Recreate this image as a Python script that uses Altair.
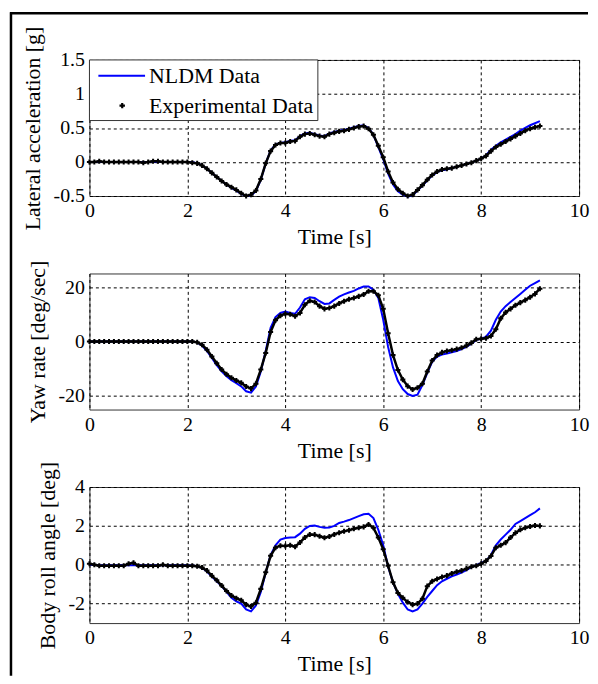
import altair as alt
import pandas as pd

# ---------------- data ----------------
TIME = [round(i * 0.1, 1) for i in range(93)]  # 0.0 .. 9.2 s

ACC_EXP = [0.00, 0.00, 0.01, 0.00, 0.00, 0.00, 0.00, 0.00, 0.00, 0.00,
           0.00, -0.01, 0.00, 0.01, 0.01, 0.00, 0.00, 0.00, 0.00, 0.00,
           0.00, -0.01, -0.02, -0.05, -0.10, -0.16, -0.22, -0.28, -0.33, -0.37,
           -0.41, -0.46, -0.50, -0.48, -0.42, -0.25, -0.02, 0.16, 0.25, 0.28,
           0.28, 0.30, 0.31, 0.37, 0.41, 0.42, 0.40, 0.38, 0.37, 0.41,
           0.43, 0.45, 0.46, 0.48, 0.50, 0.52, 0.53, 0.49, 0.40, 0.24,
           0.07, -0.14, -0.30, -0.40, -0.46, -0.50, -0.48, -0.41, -0.34, -0.26,
           -0.19, -0.14, -0.11, -0.10, -0.09, -0.07, -0.05, -0.03, -0.01, 0.02,
           0.05, 0.09, 0.16, 0.22, 0.26, 0.30, 0.34, 0.38, 0.42, 0.46,
           0.49, 0.51, 0.53]
ACC_NLDM = [0.00, 0.00, 0.00, 0.00, 0.00, 0.00, 0.00, 0.00, 0.00, 0.00,
            0.00, 0.00, 0.00, 0.00, 0.00, 0.00, 0.00, 0.00, 0.00, 0.00,
            0.00, 0.00, -0.02, -0.05, -0.10, -0.16, -0.22, -0.28, -0.33, -0.38,
            -0.42, -0.47, -0.50, -0.49, -0.43, -0.26, -0.02, 0.17, 0.26, 0.28,
            0.29, 0.31, 0.32, 0.38, 0.42, 0.43, 0.41, 0.39, 0.38, 0.42,
            0.44, 0.46, 0.47, 0.49, 0.51, 0.53, 0.54, 0.50, 0.40, 0.22,
            0.04, -0.17, -0.33, -0.43, -0.48, -0.51, -0.49, -0.42, -0.35, -0.27,
            -0.20, -0.15, -0.12, -0.11, -0.09, -0.07, -0.05, -0.03, -0.01, 0.02,
            0.05, 0.10, 0.18, 0.24, 0.29, 0.33, 0.37, 0.41, 0.46, 0.50,
            0.54, 0.57, 0.60]

YAW_EXP = [0, 0, 0, 0, 0, 0, 0, 0, 0, 0,
           0, 0, 0, 0, 0, 0, 0, 0, 0, 0,
           0, 0, -0.3, -1.2, -3.0, -5.5, -8.0, -10.3, -12.0, -13.3,
           -14.3, -15.2, -16.5, -17.3, -15.5, -10.3, -4.2, 3.5, 7.8, 9.5,
           10.2, 10.0, 9.3, 10.5, 13.5, 15.0, 14.5, 13.0, 12.0, 12.3,
           13.0, 14.0, 14.8, 15.5, 16.0, 16.6, 17.3, 18.5, 18.5, 17.0,
           12.0, 3.0, -5.0, -10.5, -14.0, -16.4, -17.6, -17.0, -15.5, -11.0,
           -7.0, -5.0, -4.0, -3.5, -3.2, -2.8, -2.3, -1.5, -0.5, 0.8,
           1.0, 1.2, 2.0, 4.5, 8.5, 10.7, 12.0, 13.3, 14.3, 15.2,
           16.3, 17.5, 19.4]
YAW_NLDM = [0, 0, 0, 0, 0, 0, 0, 0, 0, 0,
            0, 0, 0, 0, 0, 0, 0, 0, 0, 0,
            0, 0, -0.3, -1.5, -3.5, -6.0, -8.7, -11.0, -12.8, -14.2,
            -15.3, -16.5, -18.3, -18.8, -16.5, -11.0, -3.5, 5.0, 9.0, 10.5,
            11.0, 10.5, 10.2, 12.5, 15.5, 16.3, 16.0, 14.8, 13.8, 14.0,
            15.3, 16.5, 17.3, 18.0, 18.6, 19.5, 20.2, 20.2, 19.0, 16.0,
            8.0, -2.0, -9.5, -14.5, -17.5, -19.3, -20.0, -19.5, -16.0, -11.5,
            -7.5, -5.5, -4.8, -4.4, -4.0, -3.5, -2.8, -2.0, -0.8, 0.6,
            1.0, 1.8, 4.0, 8.0, 11.0, 13.0, 14.5, 16.0, 17.5, 19.0,
            20.5, 21.5, 22.5]

ROLL_EXP = [0.05, 0.0, -0.05, -0.05, -0.05, -0.05, -0.05, -0.05, 0.05, 0.1,
            -0.05, -0.05, -0.05, -0.05, -0.05, 0.0, -0.05, -0.05, -0.05, -0.05,
            -0.05, -0.05, -0.08, -0.14, -0.30, -0.56, -0.80, -1.07, -1.35, -1.58,
            -1.72, -1.83, -2.05, -2.15, -1.95, -1.24, -0.39, 0.46, 0.88, 0.98,
            0.97, 1.00, 0.93, 1.15, 1.40, 1.56, 1.55, 1.47, 1.39, 1.45,
            1.56, 1.65, 1.72, 1.78, 1.85, 1.90, 1.95, 2.07, 1.90, 1.40,
            0.80, -0.05, -0.90, -1.45, -1.70, -1.92, -2.05, -2.00, -1.75, -1.10,
            -0.85, -0.73, -0.63, -0.56, -0.45, -0.36, -0.30, -0.20, -0.10, -0.05,
            0.05, 0.20, 0.45, 0.88, 1.00, 1.14, 1.40, 1.64, 1.80, 1.90,
            1.97, 2.02, 2.00]
ROLL_NLDM = [0.0, 0.0, -0.02, -0.02, -0.02, -0.02, -0.02, -0.02, -0.02, -0.02,
             -0.02, -0.02, -0.02, -0.02, -0.02, -0.02, -0.02, -0.02, -0.02, -0.02,
             -0.02, -0.04, -0.08, -0.15, -0.35, -0.60, -0.85, -1.10, -1.40, -1.70,
             -1.88, -2.00, -2.30, -2.40, -2.10, -1.40, -0.40, 0.50, 1.00, 1.30,
             1.38, 1.40, 1.42, 1.60, 1.85, 2.00, 2.02, 1.95, 1.90, 1.92,
             2.00, 2.15, 2.22, 2.30, 2.40, 2.50, 2.60, 2.62, 2.40, 1.80,
             1.00, -0.10, -0.90, -1.50, -1.95, -2.30, -2.40, -2.30, -2.00, -1.65,
             -1.35, -1.05, -0.85, -0.72, -0.60, -0.50, -0.40, -0.28, -0.12, -0.02,
             0.10, 0.20, 0.50, 1.00, 1.30, 1.55, 1.80, 2.10, 2.25, 2.40,
             2.55, 2.70, 2.90]

X_TICKS = [0, 2, 4, 6, 8, 10]
ACC_TICKS = [-0.5, 0, 0.5, 1, 1.5]
YAW_TICKS = [-20, 0, 20]
ROLL_TICKS = [-2, 0, 2, 4]
LEGEND_LABELS = ["NLDM Data", "Experimental Data"]

FONT = "Liberation Serif"
W, H = 493, 137


def one():
    return alt.Chart(pd.DataFrame({"k": [0]}))


def panel(y_exp, y_nldm, title, domain, ticks, legend=False, frame=False):
    df = pd.DataFrame({"t": TIME, "exp": y_exp, "nldm": y_nldm})
    x = alt.X("t:Q", scale=alt.Scale(domain=[0, 10], nice=False),
              axis=alt.Axis(values=X_TICKS, tickCount=20, title="Time [s]",
                            labelOverlap=False, labelFlush=False,
                            labelExpr="toString(datum.value)"))
    y_scale = alt.Scale(domain=domain, nice=False, zero=False)
    base = alt.Chart(df)
    blue = base.mark_line(color="#0000ff", strokeWidth=2).encode(
        x=x,
        y=alt.Y("nldm:Q", scale=y_scale,
                axis=alt.Axis(values=ticks, tickCount=20, title=title,
                              labelOverlap=False,
                              labelExpr="toString(datum.value)")))
    black_line = base.mark_line(color="black", strokeWidth=2.5).encode(
        x="t:Q", y="exp:Q")
    black_pts = base.mark_point(shape="cross", filled=True, color="black",
                                opacity=1, size=26).encode(x="t:Q", y="exp:Q")
    layers = [blue, black_line, black_pts]
    if legend:
        layers += [
            one().mark_rect(fill="white", stroke="#333", strokeWidth=1).encode(
                x=alt.value(0), x2=alt.value(230), y=alt.value(0), y2=alt.value(61)),
            one().mark_rule(color="#0000ff", strokeWidth=2).encode(
                x=alt.value(9), x2=alt.value(56), y=alt.value(16)),
            one().mark_point(shape="cross", filled=True, color="black", opacity=1,
                             size=30).encode(x=alt.value(33), y=alt.value(46)),
            one().mark_text(font=FONT, fontSize=22, align="left", baseline="middle",
                            color="black")
            .encode(text=alt.value(LEGEND_LABELS[0]), x=alt.value(60), y=alt.value(16)),
            one().mark_text(font=FONT, fontSize=22, align="left", baseline="middle",
                            color="black")
            .encode(text=alt.value(LEGEND_LABELS[1]), x=alt.value(60), y=alt.value(46)),
        ]
    if frame:
        layers += [
            one().mark_rule(color="black", strokeWidth=2.5).encode(
                x=alt.value(-79), y=alt.value(-48), y2=alt.value(620)),
            one().mark_rule(color="black", strokeWidth=2.5).encode(
                x=alt.value(-80), x2=alt.value(502), y=alt.value(-47)),
        ]
    return alt.layer(*layers).properties(width=W, height=H)


p1 = panel(ACC_EXP, ACC_NLDM, "Lateral acceleration [g]", [-0.5, 1.5],
           ACC_TICKS, legend=True, frame=True)
p2 = panel(YAW_EXP, YAW_NLDM, "Yaw rate [deg/sec]", [-25, 25], YAW_TICKS)
p3 = panel(ROLL_EXP, ROLL_NLDM, "Body roll angle [deg]", [-3, 4], ROLL_TICKS)

chart = (
    alt.vconcat(p1, p2, p3, spacing=78, bounds="flush")
    .properties(padding=0)
    .configure_view(stroke="#333", strokeWidth=1)
    .configure_axis(
        labelFont=FONT, labelFontSize=20, labelColor="black",
        titleFont=FONT, titleFontSize=22, titleFontWeight="normal",
        titleColor="black", grid=True, gridColor="black", gridDash=[3, 3],
        gridWidth=1, gridOpacity=1, ticks=False, domain=False,
        labelPadding=5,
    )
    .configure_axisX(titlePadding=6)
    .configure_axisY(titlePadding=9)
)

chart.save("out.html", embed_options={"renderer": "svg", "actions": False})
